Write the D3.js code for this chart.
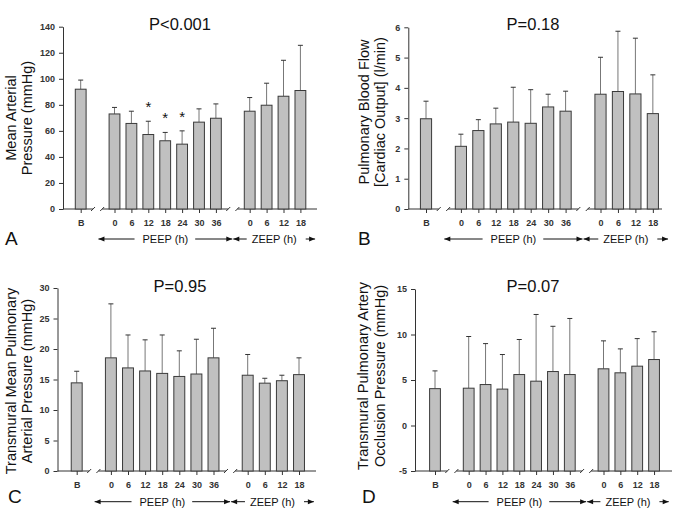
<!DOCTYPE html>
<html lang="en">
<head>
<meta charset="UTF-8">
<script src="https://d3js.org/d3.v7.min.js"></script>
<title>PEEP / ZEEP haemodynamics</title>
<style>
  body { margin: 0; background: #fff; }
  text { font-family: "Liberation Sans", Arial, sans-serif; fill: #111; }
  .tick text { font-size: 9px; font-weight: bold; fill: #333; }
  .tick line, .domain { stroke: #333; }
</style>
</head>
<body>
<div id="chart"></div>
<script>
// categories shared by all four panels (B = baseline, then PEEP hours, then ZEEP hours)
const cats = ["B", "0", "6", "12", "18", "24", "30", "36", "0", "6", "12", "18"];
const slots = [0, 2, 3, 4, 5, 6, 7, 8, 10, 11, 12, 13];   // position on the broken axis

// A: mean arterial pressure (mmHg)
const mapMean = [92, 73, 65.7, 57.2, 52.4, 49.8, 66.7, 69.7, 75.1, 79.7, 86.6, 91];
const mapSD   = [7, 5, 9.4, 10.2, 6.4, 10.2, 10.2, 11, 10.5, 16.9, 27.6, 34.7];
const mapSig  = [3, 4, 5];
const mapTicks = [0, 20, 40, 60, 80, 100, 120, 140];

// B: pulmonary blood flow (l/min)
const pbfMean = [2.98, 2.07, 2.59, 2.81, 2.87, 2.83, 3.37, 3.23, 3.79, 3.88, 3.80, 3.15];
const pbfSD   = [0.58, 0.40, 0.36, 0.52, 1.15, 1.11, 0.42, 0.66, 1.22, 1.99, 1.84, 1.28];
const pbfTicks = [0, 1, 2, 3, 4, 5, 6];

// C: transmural mean pulmonary arterial pressure (mmHg)
const mpapMean = [14.45, 18.55, 16.9, 16.4, 16.0, 15.5, 15.9, 18.55, 15.7, 14.4, 14.8, 15.8];
const mpapSD   = [1.9, 8.85, 5.4, 5.1, 6.3, 4.2, 5.7, 4.85, 3.4, 0.8, 0.9, 2.75];
const mpapTicks = [0, 5, 10, 15, 20, 25, 30];

// D: transmural pulmonary artery occlusion pressure (mmHg)
const paopMean = [4.05, 4.1, 4.5, 4.0, 5.6, 4.87, 5.93, 5.6, 6.23, 5.79, 6.52, 7.25];
const paopSD   = [1.95, 5.68, 4.5, 3.8, 3.85, 7.33, 4.97, 6.16, 3.07, 2.63, 3.03, 3.05];
const paopTicks = [-5, 0, 5, 10, 15];

const panels = [
  { letter: "A", title: "P<0.001", ylab: ["Mean Arterial", "Pressure (mmHg)"],
    mean: mapMean, sd: mapSD, sig: mapSig, ticks: mapTicks, dom: [0, 140],
    left: 63, right: 317, top: 26.7, bottom: 209, x0: 80.7, slot: 16.9,
    titleX: 180, titleY: 30, labX: [15.5, 32], labY: 118, letX: 5, letY: 245, rowY: 239 },
  { letter: "B", title: "P=0.18", ylab: ["Pulmonary Blood Flow", "[Cardiac Output] (l/min)"],
    mean: pbfMean, sd: pbfSD, sig: [], ticks: pbfTicks, dom: [0, 6],
    left: 408.3, right: 662, top: 27.3, bottom: 209, x0: 426, slot: 17.45,
    titleX: 533, titleY: 30, labX: [368.5, 385], labY: 112, letX: 358, letY: 245, rowY: 239 },
  { letter: "C", title: "P=0.95", ylab: ["Transmural Mean Pulmonary", "Arterial Pressure (mmHg)"],
    mean: mpapMean, sd: mpapSD, sig: [], ticks: mpapTicks, dom: [0, 30],
    left: 57.5, right: 316, top: 288, bottom: 471, x0: 76.7, slot: 17.1,
    titleX: 180, titleY: 291.7, labX: [15.5, 32], labY: 381, letX: 8, letY: 503, rowY: 501.7 },
  { letter: "D", title: "P=0.07", ylab: ["Transmural Pulmonary Artery", "Occlusion Pressure (mmHg)"],
    mean: paopMean, sd: paopSD, sig: [], ticks: paopTicks, dom: [-5, 15],
    left: 415, right: 672, top: 289, bottom: 471, x0: 435, slot: 16.85,
    titleX: 533, titleY: 291.7, labX: [368, 385], labY: 376, letX: 362, letY: 503, rowY: 501.7 }
];

const svg = d3.select("#chart").append("svg")
  .attr("width", 685).attr("height", 513);

function arrowHead(g, x, y, dir) {
  // filled triangle, dir = -1 points left, +1 points right
  g.append("path")
    .attr("d", `M${x},${y} L${x - dir * 6},${y - 2.5} L${x - dir * 6},${y + 2.5} Z`)
    .attr("fill", "#111");
}

panels.forEach(p => {
  const g = svg.append("g");
  const xs = d3.scaleLinear().domain([0, 13]).range([p.x0, p.x0 + 13 * p.slot]);
  const y = d3.scaleLinear().domain(p.dom).range([p.bottom, p.top]);
  const bw = p.slot * 0.64;

  // y axis
  g.append("g").attr("transform", `translate(${p.left},0)`)
    .call(d3.axisLeft(y).tickValues(p.ticks).tickFormat(d => d)
      .tickSize(4).tickPadding(4).tickSizeOuter(0));

  // x axis with breaks
  const xa = g.append("g").attr("transform", `translate(0,${p.bottom})`)
    .call(d3.axisBottom(xs).tickValues(slots).tickFormat((d, i) => cats[i])
      .tickSize(4).tickPadding(7));
  xa.select(".domain").remove();

  const h = p.slot * 0.27;
  const segs = [[p.left, xs(1) - h], [xs(1) + h, xs(9) - h], [xs(9) + h, p.right]];
  segs.forEach(s => {
    g.append("line").attr("x1", s[0]).attr("x2", s[1])
      .attr("y1", p.bottom).attr("y2", p.bottom).attr("stroke", "#333");
  });
  [xs(1) - h, xs(1) + h, xs(9) - h, xs(9) + h].forEach(bx => {
    g.append("line").attr("x1", bx - 2).attr("x2", bx + 2)
      .attr("y1", p.bottom + 2).attr("y2", p.bottom - 2).attr("stroke", "#333");
  });

  // bars
  const rows = cats.map((c, i) => ({ i: i, s: slots[i], m: p.mean[i], e: p.mean[i] + p.sd[i] }));

  g.selectAll(".err").data(rows).enter().append("line")
    .attr("x1", d => xs(d.s)).attr("x2", d => xs(d.s))
    .attr("y1", d => y(d.m)).attr("y2", d => y(d.e))
    .attr("stroke", "#777");
  g.selectAll(".cap").data(rows).enter().append("line")
    .attr("x1", d => xs(d.s) - 2.5).attr("x2", d => xs(d.s) + 2.5)
    .attr("y1", d => y(d.e)).attr("y2", d => y(d.e))
    .attr("stroke", "#333");

  g.selectAll(".bar").data(rows).enter().append("rect")
    .attr("x", d => xs(d.s) - bw / 2)
    .attr("y", d => y(d.m))
    .attr("width", bw)
    .attr("height", d => y(p.dom[0]) - y(d.m))
    .attr("fill", "#c0c0c0")
    .attr("stroke", "#3a3a3a");

  g.selectAll(".star").data(rows.filter(d => p.sig.includes(d.i))).enter().append("text")
    .attr("x", d => xs(d.s)).attr("y", d => y(d.e) - 9)
    .attr("text-anchor", "middle").style("font-size", "15px")
    .text("*");

  // title and panel letter
  g.append("text").attr("x", p.titleX).attr("y", p.titleY)
    .attr("text-anchor", "middle").style("font-size", "16.5px").text(p.title);
  g.append("text").attr("x", p.letX).attr("y", p.letY)
    .style("font-size", "19px").text(p.letter);

  // y axis title (two lines)
  p.ylab.forEach((t, k) => {
    g.append("text")
      .attr("transform", `translate(${p.labX[k]},${p.labY}) rotate(-90)`)
      .attr("text-anchor", "middle").style("font-size", "14.5px").text(t);
  });

  // PEEP / ZEEP arrow row
  const ry = p.rowY;
  const rowFont = "11px";
  function span(a, b, label, gapL, gapR) {
    const mid = (a + b) / 2;
    const t = g.append("text").attr("x", mid).attr("y", ry + 4)
      .attr("text-anchor", "middle").style("font-size", rowFont).text(label);
    const w = t.node().getComputedTextLength();
    g.append("line").attr("x1", a).attr("x2", mid - w / 2 - gapL)
      .attr("y1", ry).attr("y2", ry).attr("stroke", "#111");
    g.append("line").attr("x1", mid + w / 2 + gapR).attr("x2", b)
      .attr("y1", ry).attr("y2", ry).attr("stroke", "#111");
    arrowHead(g, a, ry, -1);
    arrowHead(g, b, ry, 1);
  }
  span(xs(1.05), xs(8.97), "PEEP (h)", 8, 7);
  span(xs(9.03), xs(13.87), "ZEEP (h)", 5, 9);
});
</script>
</body>
</html>
